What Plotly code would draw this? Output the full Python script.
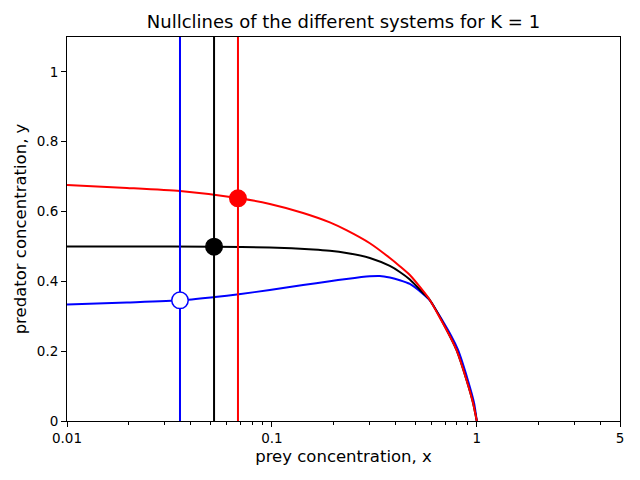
import math
import plotly.graph_objects as go

# ---- data ----
red_x = [0.01, 0.0196, 0.0356, 0.0693, 0.0977, 0.142, 0.1918, 0.231, 0.3006, 0.3764, 0.421, 0.4713, 0.547, 0.5898, 0.7384, 0.796, 0.891, 0.959, 1.0]
red_y = [0.676, 0.6676, 0.6585, 0.6381, 0.6218, 0.596, 0.569, 0.5467, 0.5092, 0.467, 0.4436, 0.4183, 0.3725, 0.3467, 0.2436, 0.2034, 0.1175, 0.0516, 0.0]

black_x = [0.01, 0.0196, 0.0527, 0.0977, 0.159, 0.1918, 0.231, 0.3006, 0.3764, 0.421, 0.4713, 0.547, 0.5898, 0.7384, 0.796, 0.891, 0.959, 1.0]
black_y = [0.500, 0.500, 0.4994, 0.4971, 0.4914, 0.4877, 0.4814, 0.4671, 0.4441, 0.4269, 0.4054, 0.3668, 0.3467, 0.2436, 0.2034, 0.1175, 0.0516, 0.0]

blue_x = [0.01, 0.0196, 0.0361, 0.0527, 0.069, 0.0977, 0.142, 0.1918, 0.231, 0.3006, 0.3362, 0.3764, 0.421, 0.4713, 0.547, 0.5898, 0.7507, 0.810, 0.904, 0.970, 1.0]
blue_y = [0.334, 0.3395, 0.3456, 0.3553, 0.363, 0.3754, 0.3897, 0.4003, 0.4069, 0.4146, 0.4155, 0.4109, 0.4034, 0.3926, 0.3639, 0.3458, 0.2436, 0.2034, 0.1175, 0.0516, 0.0]

# equilibrium points (x*, y*)
eq_x = {"blue": 0.0356, "black": 0.0522, "red": 0.0683}
eq_y = {"blue": 0.3456, "black": 0.4995, "red": 0.638}

x_ticks = [0.01, 0.1, 1, 5]
x_tick_labels = ["0.01", "0.1", "1", "5"]
x_minor = [0.02, 0.03, 0.04, 0.05, 0.06, 0.07, 0.08, 0.09,
           0.2, 0.3, 0.4, 0.5, 0.6, 0.7, 0.8, 0.9, 2, 3, 4]
y_ticks = [0, 0.2, 0.4, 0.6, 0.8, 1.0]
y_tick_labels = ["0", "0.2", "0.4", "0.6", "0.8", "1"]
Y_MIN, Y_MAX = 0, 1.1
X_MIN, X_MAX = 0.01, 5

COL = {"blue": "#0000ff", "black": "#000000", "red": "#ff0000"}

W, H = 632, 472  # page body has an 8px margin

fig = go.Figure()

curves = [("blue", blue_x, blue_y), ("black", black_x, black_y), ("red", red_x, red_y)]
for name, xs, ys in curves:
    fig.add_trace(go.Scatter(x=xs, y=ys, mode="lines",
                             line=dict(color=COL[name], width=2, shape="spline", smoothing=0.6)))

for name in ["blue", "black", "red"]:
    fig.add_trace(go.Scatter(x=[eq_x[name], eq_x[name]], y=[Y_MIN, Y_MAX], mode="lines",
                             line=dict(color=COL[name], width=2)))

for name in ["blue", "black", "red"]:
    fill = "white" if name == "blue" else COL[name]
    fig.add_trace(go.Scatter(x=[eq_x[name]], y=[eq_y[name]], mode="markers",
                             marker=dict(size=16.5, color=fill,
                                         line=dict(color=COL[name], width=1.5))))

fig.update_layout(
    width=W, height=H,
    margin=dict(l=59, r=20, t=29, b=59),
    paper_bgcolor="white", plot_bgcolor="white",
    showlegend=False,
    font=dict(family="DejaVu Sans", size=13.5, color="black"),
    title=dict(text="Nullclines of the different systems for K = 1",
               x=(59 + 612) / 2 / W, xanchor="center",
               y=1 - 14 / H, yanchor="middle", yref="container",
               font=dict(size=18, color="black")),
)
fig.update_xaxes(type="log", range=[math.log10(X_MIN), math.log10(X_MAX)],
                 tickmode="array", tickvals=x_ticks, ticktext=x_tick_labels,
                 ticks="outside", ticklen=5, tickwidth=1, tickcolor="black",
                 minor=dict(tickmode="array", tickvals=x_minor, ticks="outside",
                            ticklen=3, tickwidth=1, tickcolor="black", showgrid=False),
                 showline=True, linecolor="black", linewidth=1, mirror=True,
                 showgrid=False, zeroline=False,
                 tickfont=dict(size=13.5),
                 title=dict(text="prey concentration, x", standoff=5, font=dict(size=16.5)))
fig.update_yaxes(range=[Y_MIN, Y_MAX],
                 tickmode="array", tickvals=y_ticks, ticktext=y_tick_labels,
                 ticks="outside", ticklen=5, tickwidth=1, tickcolor="black",
                 showline=True, linecolor="black", linewidth=1, mirror=True,
                 showgrid=False, zeroline=False,
                 tickfont=dict(size=13.5),
                 title=dict(text="predator concentration, y", standoff=6, font=dict(size=16.5)))

fig.write_html("out.html")
